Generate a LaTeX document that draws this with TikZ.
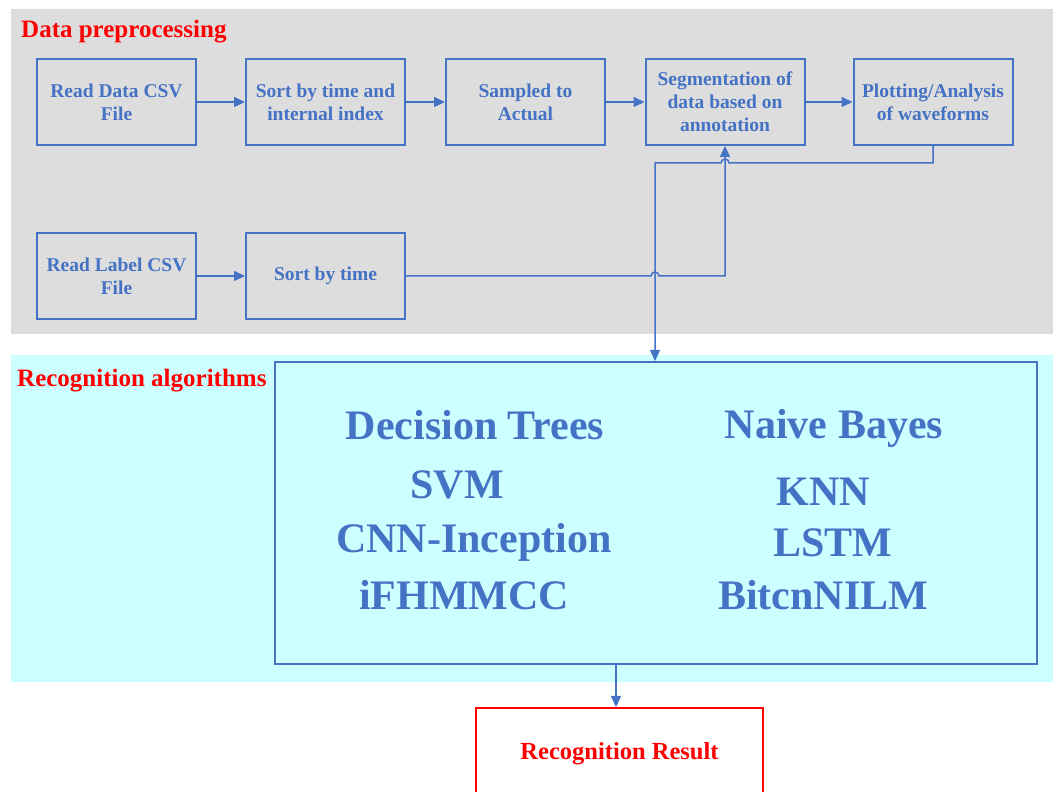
\documentclass[tikz,border=0pt]{standalone}
\usepackage{fontspec}
\setmainfont{Liberation Serif}
\usetikzlibrary{arrows.meta,calc}
\definecolor{flowblue}{HTML}{4472C4}
\definecolor{panelgray}{HTML}{DDDDDD}
\definecolor{panelcyan}{HTML}{CCFFFF}
\definecolor{titlered}{HTML}{FF0000}
\begin{document}
\begin{tikzpicture}[x=1pt,y=1pt,
  stepbox/.style={draw=flowblue,line width=2pt,minimum width=159pt,minimum height=86pt,
    inner sep=2pt,align=center,text=flowblue,font=\bfseries\fontsize{19.5}{23}\selectfont},
  conn/.style={draw=flowblue,line width=1.5pt,-{Triangle[length=11pt,width=10pt]}},
  algo/.style={text=flowblue,font=\bfseries\fontsize{42}{48}\selectfont,inner sep=0pt},
  heading/.style={text=titlered,font=\bfseries\fontsize{25}{30}\selectfont,inner sep=0pt,anchor=west}]
\clip (0,0) rectangle (1053,792);
\useasboundingbox (0,0) rectangle (1053,792);
\fill[white] (0,0) rectangle (1053,792);

% panels
\fill[panelgray] (11,458) rectangle (1053,783);
\fill[panelcyan] (11,110) rectangle (1053,437);

\node[heading] (hpre) at (21,760) {Data preprocessing};
\node[heading] (halg) at (17,411) {Recognition algorithms};

% preprocessing steps
\node[stepbox] (rdata) at (116.5,690) {Read Data CSV\\File};
\node[stepbox] (sort1) at (325.5,690) {Sort by time and\\internal index};
\node[stepbox] (samp)  at (525.5,690) {Sampled to\\Actual};
\node[stepbox] (seg)   at (725,690)   {Segmentation of\\data based on\\annotation};
\node[stepbox] (plot)  at (933,690)   {Plotting/Analysis\\of waveforms};
\node[stepbox] (rlabel) at (116.5,516) {Read Label CSV\\File};
\node[stepbox] (sort2)  at (325.5,516) {Sort by time};

% algorithms
\node[draw=flowblue,line width=2pt,minimum width=762pt,minimum height=302pt] (alg) at (656,279) {};
\node[algo] (dt)  at (475,367) {Decision Trees};
\node[algo] (nb)  at (834,364) {Naive Bayes};
\node[algo] (svm) at (457,307) {SVM};
\node[algo] (knn) at (823,300) {KNN};
\node[algo] (cnn) at (474,250) {CNN-Inception};
\node[algo] (lstm) at (833,249) {LSTM};
\node[algo] (ifh) at (464,197) {iFHMMCC};
\node[algo] (bit) at (823,197) {BitcnNILM};

% result
\node[draw=titlered,line width=2pt,minimum width=287pt,minimum height=100pt] (res) at (619.5,34) {};
\node[text=titlered,font=\bfseries\fontsize{24.5}{28}\selectfont] (restext) at (619.5,38) {Recognition Result};

% connectors
\draw[conn] (rdata.east) -- (sort1.west);
\draw[conn] (sort1.east) -- (samp.west);
\draw[conn] (samp.east) -- (seg.west);
\draw[conn] (seg.east) -- (plot.west);
\draw[conn] (rlabel.east) -- (sort2.west);

\coordinate (tap) at (655,629);
\draw[conn] (plot.south) |- ($(seg.south|-tap)+(4,0)$)
  arc[start angle=0,end angle=180,radius=4] -- (tap) -- (tap|-alg.north);
\draw[conn] (sort2.east) -- ($(tap|-sort2.east)+(-4,0)$)
  arc[start angle=180,end angle=0,radius=4] -- (seg.south|-sort2.east) -- (seg.south);

\coordinate (drop) at (616,0);
\draw[conn] (drop|-alg.south) -- (drop|-res.north);
\end{tikzpicture}
\end{document}
